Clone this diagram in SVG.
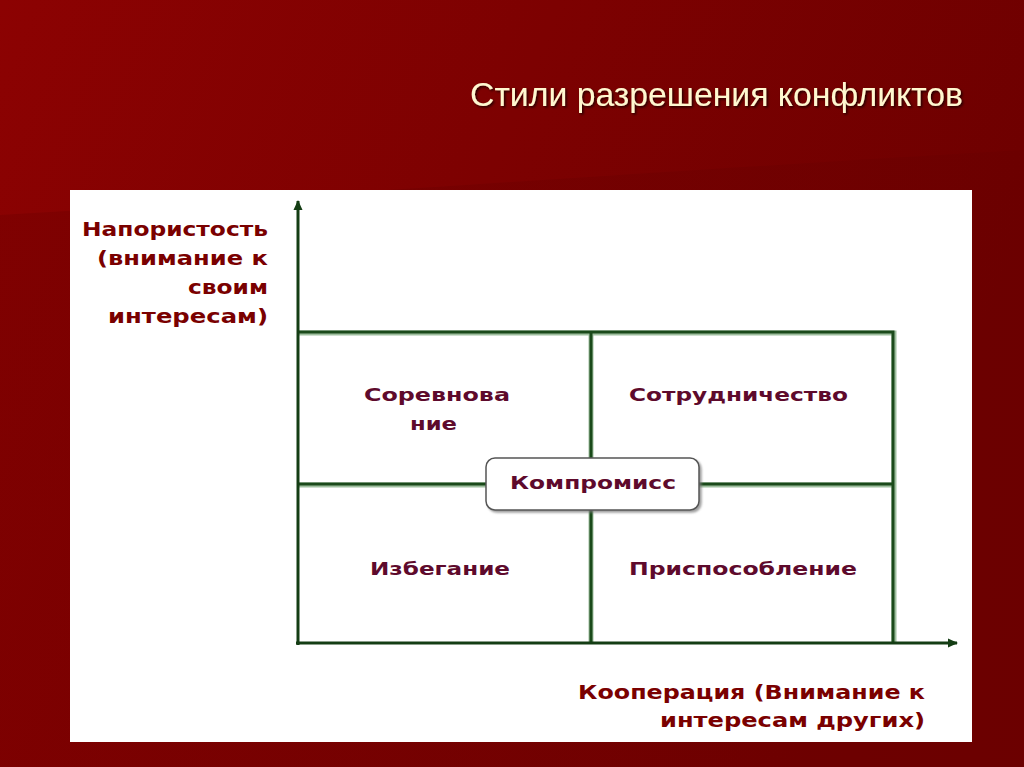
<svg xmlns="http://www.w3.org/2000/svg" width="1024" height="767" viewBox="0 0 1024 767">
<defs>
<linearGradient id="bg" x1="0" y1="0" x2="1" y2="0.3">
<stop offset="0" stop-color="#8c0202"/>
<stop offset="1" stop-color="#6e0000"/>
</linearGradient>
<linearGradient id="bg2" x1="0" y1="0" x2="1" y2="0">
<stop offset="0" stop-color="#780000"/>
<stop offset="1" stop-color="#6a0000"/>
</linearGradient>
<filter id="sh" x="-10%" y="-10%" width="120%" height="130%">
<feDropShadow dx="1.5" dy="1.5" stdDeviation="0.8" flood-color="#000" flood-opacity="0.7"/>
</filter>
<filter id="bsh" x="-10%" y="-10%" width="120%" height="130%">
<feDropShadow dx="2" dy="2" stdDeviation="1" flood-color="#777" flood-opacity="0.7"/>
</filter>
<marker id="arr" markerWidth="12" markerHeight="12" refX="9" refY="6" orient="auto" markerUnits="userSpaceOnUse">
<path d="M0,1.5 L10,6 L0,10.5 Z" fill="#143d14"/>
</marker>
</defs>
<style>
.ax{stroke:#143d14;stroke-width:3;fill:none}
.gl{stroke:#1a4a1a;stroke-width:3;fill:none}
.glh{stroke:#9fbf9f;stroke-width:5;fill:none}
.q{font-family:"DejaVu Sans",sans-serif;font-weight:bold;font-size:18px;fill:#5e0a2c}
.a{font-family:"DejaVu Sans",sans-serif;font-weight:bold;font-size:19px;fill:#7a0000}
.t{font-family:"Liberation Sans",Arial,sans-serif;font-size:34px;fill:#fff8d0}
</style>
<rect x="0" y="0" width="1024" height="767" fill="url(#bg)"/>
<path d="M0,215 C250,200 600,175 1024,150 L1024,767 L0,767 Z" fill="url(#bg2)" opacity="0.6"/>
<text class="t" x="470" y="106" textLength="493" lengthAdjust="spacingAndGlyphs" filter="url(#sh)">Стили разрешения конфликтов</text>
<rect x="70" y="190" width="902" height="552" fill="#ffffff"/>
<g id="connectors">
<path class="glh" d="M299,333 H894 V643 M591,334 V643 M299,485 H894"/>
<path class="gl" d="M298,332 H893 V643 M591,332 V643 M298,484 H893"/>
<line class="ax" x1="298" y1="645" x2="298" y2="201" marker-end="url(#arr)"/>
<line class="ax" x1="296" y1="643" x2="957" y2="643" marker-end="url(#arr)"/>
</g>
<g id="y-label">
<text class="a" x="268" y="236" text-anchor="end" textLength="186" lengthAdjust="spacingAndGlyphs">Напористость</text>
<text class="a" x="268" y="265" text-anchor="end" textLength="171" lengthAdjust="spacingAndGlyphs">(внимание к</text>
<text class="a" x="268" y="294" text-anchor="end" textLength="80" lengthAdjust="spacingAndGlyphs">своим</text>
<text class="a" x="268" y="323" text-anchor="end" textLength="160" lengthAdjust="spacingAndGlyphs">интересам)</text>
</g>
<g id="x-label">
<text class="a" x="925" y="699" text-anchor="end" textLength="347" lengthAdjust="spacingAndGlyphs">Кооперация (Внимание к</text>
<text class="a" x="925" y="727" text-anchor="end" textLength="265" lengthAdjust="spacingAndGlyphs">интересам других)</text>
</g>
<g id="q-sorevnovanie">
<text class="q" x="364" y="401" textLength="146" lengthAdjust="spacingAndGlyphs">Соревнова</text>
<text class="q" x="410" y="430" textLength="47" lengthAdjust="spacingAndGlyphs">ние</text>
</g>
<g id="q-sotrudnichestvo">
<text class="q" x="629" y="401" textLength="219" lengthAdjust="spacingAndGlyphs">Сотрудничество</text>
</g>
<g id="q-izbeganie">
<text class="q" x="370" y="575" textLength="140" lengthAdjust="spacingAndGlyphs">Избегание</text>
</g>
<g id="q-prisposoblenie">
<text class="q" x="629" y="575" textLength="228" lengthAdjust="spacingAndGlyphs">Приспособление</text>
</g>
<g id="kompromiss">
<rect x="486" y="458" width="213" height="52" rx="9" fill="#ffffff" stroke="#555" stroke-width="1.5" filter="url(#bsh)"/>
<text class="q" x="510" y="489" textLength="166" lengthAdjust="spacingAndGlyphs">Компромисс</text>
</g>
</svg>
